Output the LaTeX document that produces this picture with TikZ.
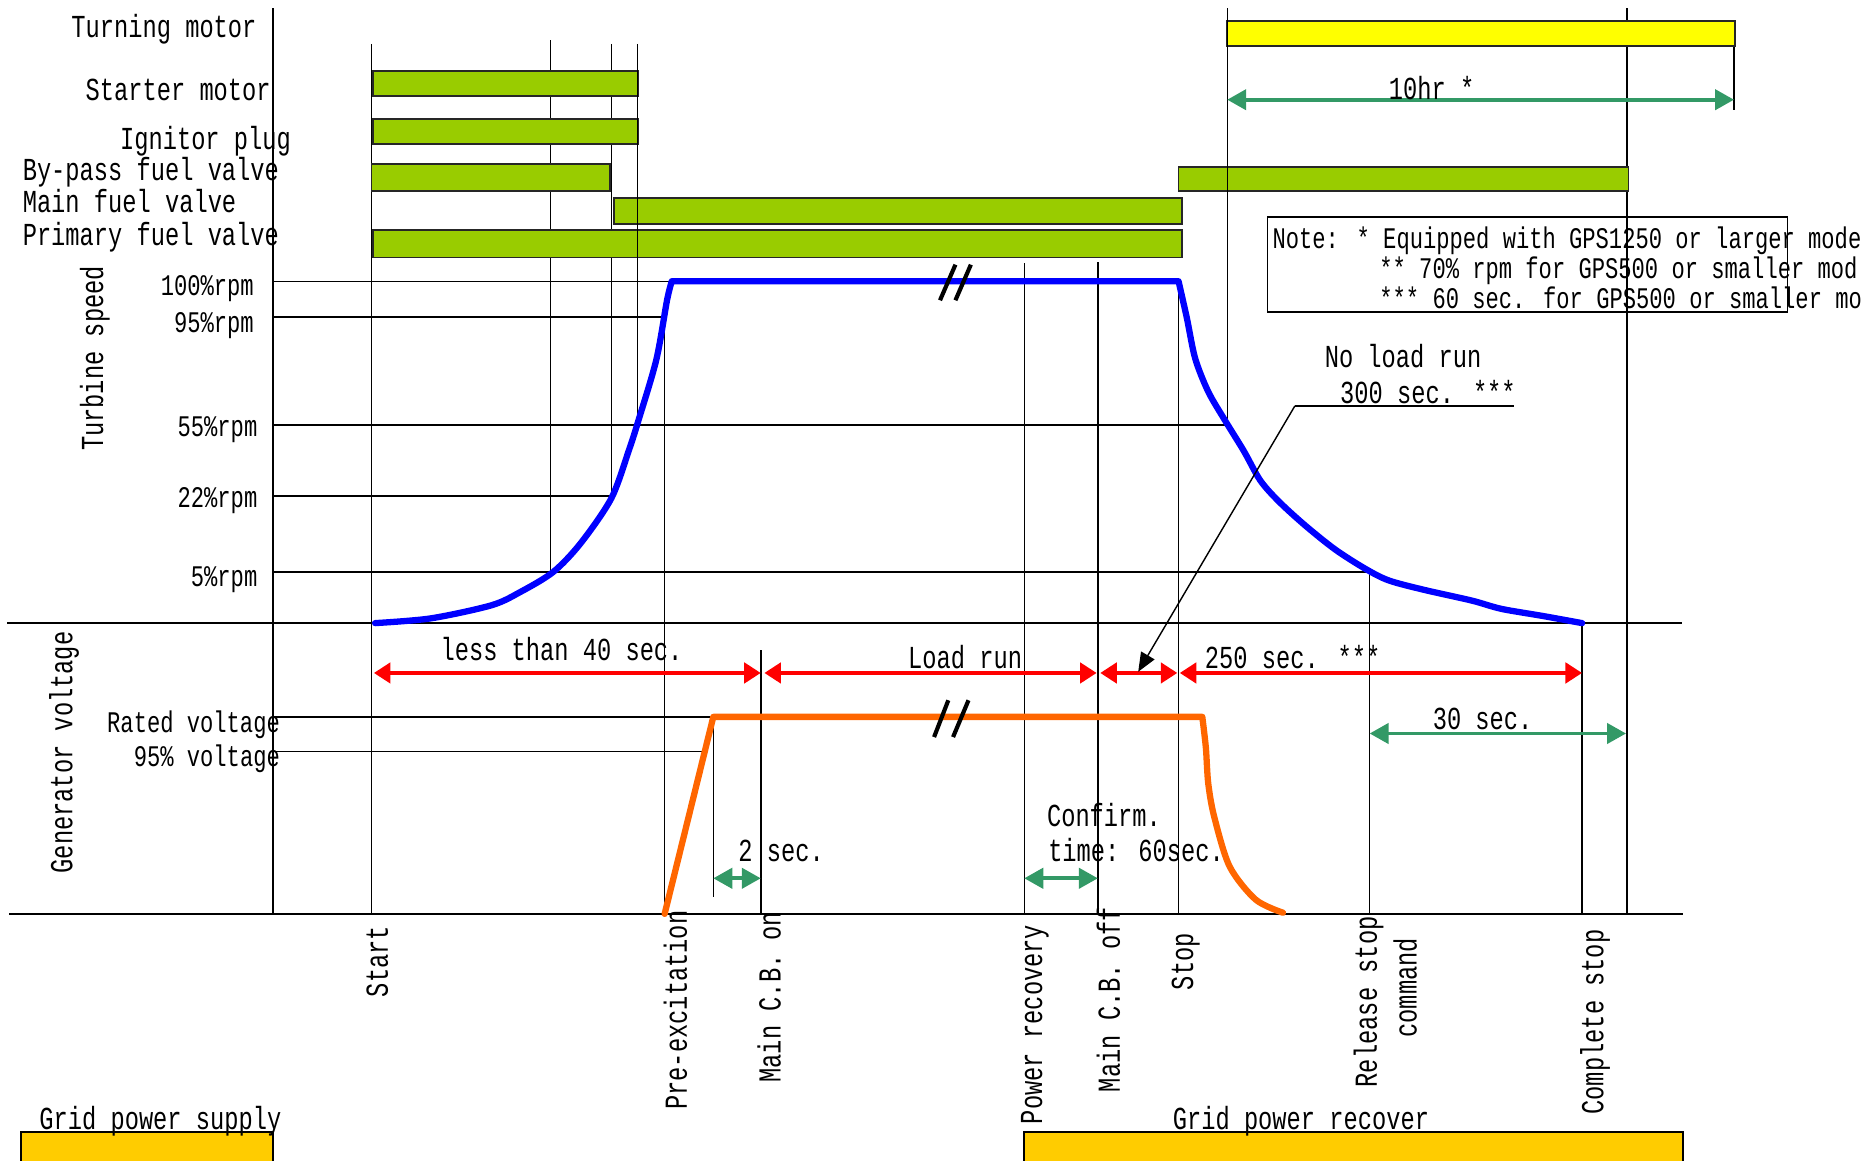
\documentclass[tikz,border=0pt]{standalone}
\usepackage{fontspec}
\usetikzlibrary{arrows.meta}
\newfontfamily\labfam[FakeStretch=0.74]{Liberation Mono}
\definecolor{bargreen}{HTML}{99CC00}
\definecolor{turnyellow}{HTML}{FFFF00}
\definecolor{gridgold}{HTML}{FFCC00}
\definecolor{arrgreen}{HTML}{339966}
\definecolor{volt}{HTML}{FF6600}
\definecolor{speedblue}{HTML}{0000FF}
\begin{document}
\begin{tikzpicture}[x=1pt,y=-1pt,
  lab/.style={inner sep=0pt, font=\labfam\fontsize{27}{32}\selectfont},
  notelab/.style={inner sep=0pt, font=\labfam\fontsize{25.2}{30}\selectfont},
  vlab/.style={lab, rotate=90, anchor=east},
  gridline/.style={line width=1.2pt, black},
  barbox/.style={draw=black!85, line width=1.5pt, fill=bargreen},
  redarrow/.style={red, line width=3.5pt, {Triangle[length=14pt,width=17pt]}-{Triangle[length=14pt,width=17pt]}},
  grnarrow/.style={arrgreen, line width=3.2pt, {Triangle[length=16pt,width=17pt]}-{Triangle[length=16pt,width=17pt]}},
  breakmark/.style={black, line width=3.5pt},
  curveline/.style={line width=5.3pt, line join=round, line cap=round},
]
\path[use as bounding box, clip] (0,0) rectangle (1568,978);

% ---------- grid lines ----------
\draw[gridline] (230,7) -- (230,770);
\draw[gridline] (313,37) -- (313,770);
\draw[gridline] (464,34) -- (464,482);
\draw[gridline] (515,37) -- (515,418);
\draw[gridline] (560,267) -- (560,770);
\draw[gridline] (601,604) -- (601,756);
\draw[gridline] (641,548) -- (641,770);
\draw[gridline] (863,222) -- (863,770);
\draw[gridline] (925,221) -- (925,770);
\draw[gridline] (993,237) -- (993,770);
\draw[gridline] (1154,482) -- (1154,770);
\draw[gridline] (1333,525) -- (1333,770);
\draw[gridline] (1371,7) -- (1371,770);
\draw[gridline] (1461,38) -- (1461,93);

\draw[gridline] (6,525) -- (1417,525);
\draw[gridline] (8,770) -- (1418,770);
\draw[gridline] (230,237) -- (566,237);
\draw[gridline] (230,267) -- (560,267);
\draw[gridline] (230,358) -- (1034,358);
\draw[gridline] (230,418) -- (515,418);
\draw[gridline] (230,482) -- (1154,482);
\draw[gridline] (230,604) -- (601,604);
\draw[gridline] (230,633) -- (596,633);

% ---------- bars ----------
\draw[draw=black!85, line width=1.5pt, fill=turnyellow] (1034,18) rectangle (1462,39);
\draw[barbox] (314,60) rectangle (538,81);
\draw[barbox] (314,100) rectangle (538,121);
\draw[barbox] (313,138) rectangle (514,161);
\draw[barbox] (517,167) rectangle (996,189);
\draw[barbox] (314,194) rectangle (996,217);
\draw[barbox] (993,141) rectangle (1372,161);

\draw[gridline] (537,37) -- (537,358);
\draw[gridline] (1034,7) -- (1034,358);

% ---------- labels left ----------
\node[lab, anchor=base west] (turning) at (60,31.5) {Turning motor};
\node[lab, anchor=base west] (starter) at (72,85) {Starter motor};
\node[lab, anchor=base west] (ignitor) at (101,125.6) {Ignitor plug};
\node[lab, anchor=base west] (bypass) at (19,151.7) {By-pass fuel valve};
\node[lab, anchor=base west] (mainfuel) at (19,179) {Main fuel valve};
\node[lab, anchor=base west] (primary) at (19,206.5) {Primary fuel valve};

\node[notelab, anchor=base east] (r100) at (214,248.6) {100\%rpm};
\node[notelab, anchor=base east] (r95) at (214,280) {95\%rpm};
\node[notelab, anchor=base east] (r55) at (217,368) {55\%rpm};
\node[notelab, anchor=base east] (r22) at (217,428) {22\%rpm};
\node[notelab, anchor=base east] (r5) at (217,494) {5\%rpm};
\node[notelab, anchor=base east] (rated) at (236,617) {Rated voltage};
\node[notelab, anchor=base east] (v95) at (236,646) {95\% voltage};

\node[lab, rotate=90] (tspeed) at (80,302) {Turbine speed};
\node[lab, rotate=90] (genv) at (54,634) {Generator voltage};

% ---------- curves ----------
\draw[curveline, speedblue] plot[smooth, tension=0.5] coordinates {(316,525) (363,521) (414,510) (438,499) (466,482) (489,458) (515,420) (530,379) (538,354) (553,303) (562,253) (566,237)}
  -- (993,237)
  -- plot[smooth, tension=0.5] coordinates {(993,237) (1000,268) (1007,302) (1018,330) (1032,354) (1048,380) (1062,405) (1078,423) (1100,443) (1125,463) (1150,479) (1170,489) (1200,497) (1240,506) (1265,513) (1300,519) (1333,525)};

\draw[curveline, volt] (560,770) -- (601,604) -- (1013,604)
  -- plot[smooth, tension=0.5] coordinates {(1013,604) (1016,630) (1018,660) (1023,688) (1036,730) (1058,758) (1081,769)};

\draw[breakmark] (792,253) -- (805,223);
\draw[breakmark] (805,253) -- (818,223);
\draw[breakmark] (787,621) -- (799,590);
\draw[breakmark] (803,621) -- (816,590);

% ---------- arrows ----------
\coordinate (r1a) at (315,567); \coordinate (r1b) at (641,567);
\coordinate (r2a) at (644,567); \coordinate (r2b) at (924,567);
\coordinate (r3a) at (927,567); \coordinate (r3b) at (992,567);
\coordinate (r4a) at (994,567); \coordinate (r4b) at (1333,567);
\draw[redarrow] (r1a) -- (r1b);
\draw[redarrow] (r2a) -- (r2b);
\draw[redarrow] (r3a) -- (r3b);
\draw[redarrow] (r4a) -- (r4b);

\coordinate (g1a) at (1034,84); \coordinate (g1b) at (1461,84);
\coordinate (g2a) at (1154,618); \coordinate (g2b) at (1370,618);
\coordinate (g3a) at (601,740); \coordinate (g3b) at (641,740);
\coordinate (g4a) at (863,740); \coordinate (g4b) at (925,740);
\draw[grnarrow] (g1a) -- (g1b);
\draw[grnarrow] (g2a) -- (g2b);
\draw[grnarrow] (g3a) -- (g3b);
\draw[grnarrow] (g4a) -- (g4b);

\coordinate (ldr) at (1091,342);
\coordinate (ldrend) at (1276,342);
\coordinate (ldrtip) at (959,566);
\draw[line width=1.2pt] (ldr) -- (ldrend);
\draw[line width=1.2pt, -{Triangle[length=16pt,width=13pt]}] (ldr) -- (ldrtip);

% ---------- chart texts ----------
\node[lab, anchor=base west] (tenhr) at (1170,84) {10hr *};
\node[lab, anchor=base west] (less40) at (371,556.7) {less than 40 sec.};
\node[lab, anchor=base west] (loadrun) at (765,563) {Load run};
\node[lab, anchor=base west] (s250) at (1015,563) {250 sec. ***};
\node[lab, anchor=base west] (s30) at (1207,614.6) {30 sec.};
\node[lab, anchor=base west] (s2) at (622,726) {2 sec.};
\node[lab, anchor=base west] (confirm) at (882,696) {Confirm.};
\node[lab, anchor=base west] (conftime) at (883,726) {time: 60sec.};
\node[lab, anchor=base west] (noload) at (1116,310) {No load run};
\node[lab, anchor=base west] (s300) at (1129,340) {300 sec. ***};

% ---------- note ----------
\draw[line width=1.3pt] (1068,183) rectangle (1506,263);
\node[notelab, anchor=base west] (note1) at (1072,209) {Note: * Equipped with GPS1250 or larger mode};
\node[notelab, anchor=base west] (note2) at (1162,234.6) {** 70\% rpm for GPS500 or smaller mod};
\node[notelab, anchor=base west] (note3) at (1162,259.7) {*** 60 sec. for GPS500 or smaller mo};

% ---------- bottom event labels ----------
\node[vlab] (start) at (318,780) {Start};
\node[vlab] (preex) at (569,767) {Pre-excitation};
\node[vlab] (cbon) at (648,768) {Main C.B. on};
\node[vlab] (powrec) at (872,779) {Power recovery};
\node[vlab] (cboff) at (934,764) {Main C.B. off};
\node[vlab] (stop) at (999,786) {Stop};
\node[vlab] (release) at (1153,772) {Release stop};
\node[vlab] (command) at (1184,790) {command};
\node[vlab] (complete) at (1344,783) {Complete stop};

% ---------- grid power boxes ----------
\draw[black, line width=1.5pt, fill=gridgold] (18,954) rectangle (230,995);
\draw[black, line width=1.5pt, fill=gridgold] (863,954) rectangle (1418,995);
\node[lab, anchor=base west] (gridsup) at (33,952) {Grid power supply};
\node[lab, anchor=base west] (gridrec) at (988,952) {Grid power recover};
\end{tikzpicture}
\end{document}
